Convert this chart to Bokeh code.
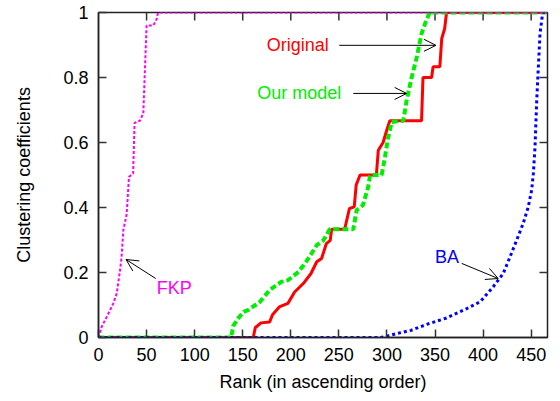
from bokeh.plotting import figure
from bokeh.models import Range1d, FixedTicker, Label, Arrow, OpenHead
from bokeh.embed import file_html
from bokeh.resources import INLINE

# ---- data (rank, clustering coefficient) ----
orig_x = [0, 161, 163, 169, 178, 181, 188, 197, 204, 213, 221, 227, 232, 237, 241, 242.5, 256, 261, 266, 268, 272, 289, 291, 296, 300, 303, 336, 337.5, 346.5, 348, 355, 357, 360, 362, 467]
orig_y = [0, 0, 0.03, 0.045, 0.048, 0.07, 0.094, 0.105, 0.14, 0.166, 0.197, 0.233, 0.243, 0.289, 0.299, 0.333, 0.333, 0.397, 0.402, 0.469, 0.5, 0.5, 0.576, 0.6, 0.64, 0.667, 0.667, 0.8, 0.8, 0.833, 0.833, 0.92, 0.95, 1.0, 1.0]

model_x = [0, 138, 140, 145, 151, 156, 168, 178, 190, 197, 208, 216, 227, 234, 240.5, 265, 268.5, 275, 280.5, 282.5, 294.5, 298, 301, 305, 317, 320.5, 325.7, 331, 336, 341, 344.5, 467]
model_y = [0, 0, 0.035, 0.058, 0.079, 0.085, 0.11, 0.146, 0.171, 0.176, 0.202, 0.233, 0.284, 0.299, 0.333, 0.333, 0.392, 0.407, 0.463, 0.5, 0.5, 0.556, 0.612, 0.663, 0.667, 0.73, 0.80, 0.862, 0.935, 0.976, 1.0, 1.0]

fkp_x = [0, 0.8, 3.3, 8.5, 15.4, 18.9, 22.4, 24, 25.8, 29.3, 31.7, 36, 37.5, 43, 46.6, 48.4, 50, 57, 60.5, 62, 467]
fkp_y = [0, 0.007, 0.033, 0.063, 0.105, 0.135, 0.207, 0.248, 0.33, 0.38, 0.494, 0.505, 0.66, 0.667, 0.69, 0.833, 0.96, 0.96, 0.98, 1.0, 1.0]

ba_x = [0, 293, 300, 310, 325, 341, 362, 383, 397, 410.5, 421, 428, 435, 441.7, 447, 450.5, 452.3, 454, 455.8, 457.5, 459.2, 461.6, 462.5, 467]
ba_y = [0, 0, 0.004, 0.012, 0.022, 0.04, 0.06, 0.089, 0.11, 0.156, 0.197, 0.248, 0.3, 0.351, 0.402, 0.453, 0.505, 0.586, 0.73, 0.833, 0.935, 0.99, 1.0, 1.0]

x_ticks = [0, 50, 100, 150, 200, 250, 300, 350, 400, 450]
y_ticks = [0, 0.2, 0.4, 0.6, 0.8, 1]
y_tick_labels = ["0", "0.2", "0.4", "0.6", "0.8", "1"]

X_MAX, Y_MAX = 467, 1
FONT = "Liberation Sans"
FS = "18px"
FRAME_W, FRAME_H = 449, 325
TICK_PX = 8

p = figure(width=560, height=401, output_backend="svg", toolbar_location=None,
           x_range=Range1d(0, X_MAX), y_range=Range1d(0, Y_MAX),
           min_border_left=98, min_border_right=13, min_border_top=12, min_border_bottom=64,
           x_axis_label="Rank (in ascending order)", y_axis_label="Clustering coefficients")
p.grid.visible = False
p.outline_line_color = "#222222"
p.outline_line_width = 1.5
p.background_fill_color = "white"
p.border_fill_color = "white"

def style_axis(ax, ticks):
    ax.ticker = FixedTicker(ticks=ticks)
    ax.major_tick_in = TICK_PX
    ax.major_tick_out = 0
    ax.minor_tick_line_color = None
    ax.axis_line_color = "#222222"
    ax.axis_line_width = 1.5
    ax.major_tick_line_color = "#333333"
    ax.major_tick_line_width = 1.5
    ax.major_label_text_font = FONT
    ax.major_label_text_font_size = FS
    ax.major_label_text_color = "black"
    ax.axis_label_text_font = FONT
    ax.axis_label_text_font_size = FS
    ax.axis_label_text_font_style = "normal"
    ax.axis_label_text_color = "black"

style_axis(p.xaxis[0], x_ticks)
style_axis(p.yaxis[0], y_ticks)
p.xaxis[0].major_label_standoff = 10
p.xaxis[0].axis_label_standoff = 8
p.yaxis[0].major_label_standoff = 10
p.yaxis[0].axis_label_standoff = 26
p.yaxis[0].major_label_overrides = {t: s for t, s in zip(y_ticks, y_tick_labels)}

# mirrored inward ticks on the top and right frame edges
dy = TICK_PX * Y_MAX / FRAME_H
dx = TICK_PX * X_MAX / FRAME_W
top_ticks = [t for t in x_ticks if 0 < t < X_MAX]
right_ticks = [t for t in y_ticks if 0 < t < Y_MAX]
p.segment(x0=top_ticks, y0=[Y_MAX] * len(top_ticks), x1=top_ticks, y1=[Y_MAX - dy] * len(top_ticks),
          line_color="#333333", line_width=1.5)
p.segment(x0=[X_MAX] * len(right_ticks), y0=right_ticks, x1=[X_MAX - dx] * len(right_ticks), y1=right_ticks,
          line_color="#333333", line_width=1.5)

p.line(orig_x, orig_y, line_color="#ff0000", line_width=3)
p.line(model_x, model_y, line_color="#00ee00", line_width=4, line_dash="6 3")
p.line(ba_x, ba_y, line_color="#0000ff", line_width=3, line_dash="3 3")
p.line(fkp_x, fkp_y, line_color="#ff00ff", line_width=2, line_dash="3 2")

labels = [("Original", 175, 0.899, "#ff0000"),
          ("Our model", 165, 0.751, "#00ee00"),
          ("FKP", 60.5, 0.151, "#ff00ff"),
          ("BA", 350, 0.248, "#0000ff")]
for txt, lx, ly, col in labels:
    p.add_layout(Label(x=lx, y=ly, text=txt, text_color=col, text_font=FONT,
                       text_font_size=FS, text_baseline="middle", text_align="left"))

arrows = [(250.4, 0.899, 351, 0.899),
          (265, 0.751, 320.5, 0.751),
          (59.5, 0.1815, 28.6, 0.24),
          (377.7, 0.228, 415.7, 0.1815)]
for x0, y0, x1, y1 in arrows:
    p.add_layout(Arrow(x_start=x0, y_start=y0, x_end=x1, y_end=y1, line_color="black",
                       line_width=1, end=OpenHead(size=12, line_color="black", line_width=1)))

open("out.html", "w").write(file_html(p, INLINE))
